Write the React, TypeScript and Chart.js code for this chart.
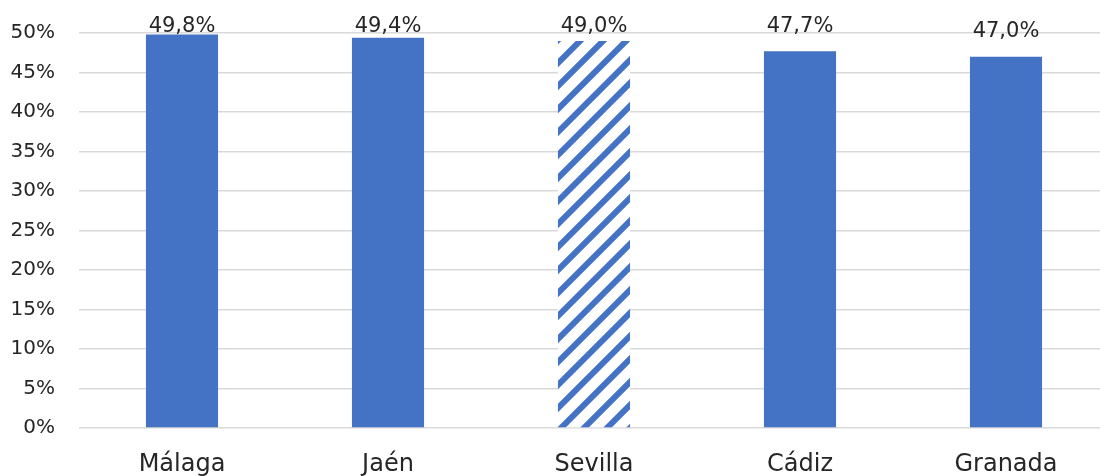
import React, { useEffect, useRef } from "react";
import { Chart, registerables } from "chart.js";

Chart.register(...registerables);

const categories = ["Málaga", "Jaén", "Sevilla", "Cádiz", "Granada"];
const values = [49.8, 49.4, 49.0, 47.7, 47.0];
const valueLabels = ["49,8%", "49,4%", "49,0%", "47,7%", "47,0%"];
const hatchedIndex = 2;
const yTicksMax = 50;
const yTickStep = 5;

const BLUE = "#4472C4";
const TEXT = "#262626";
const FONT = "'DejaVu Sans', sans-serif";

function makeHatch(): CanvasPattern | string {
  const P = 23;
  const c = document.createElement("canvas");
  c.width = P;
  c.height = P;
  const ctx = c.getContext("2d");
  if (!ctx) return BLUE;
  ctx.fillStyle = "#ffffff";
  ctx.fillRect(0, 0, P, P);
  ctx.strokeStyle = BLUE;
  ctx.lineWidth = 6;
  for (let k = -2; k <= 2; k++) {
    ctx.beginPath();
    ctx.moveTo(k * P - P, 2 * P);
    ctx.lineTo(k * P + 2 * P, -P);
    ctx.stroke();
  }
  const pat = ctx.createPattern(c, "repeat");
  return pat || BLUE;
}

const labelPlugin = {
  id: "valueLabels",
  afterDatasetsDraw(chart: any) {
    const ctx = chart.ctx;
    const meta = chart.getDatasetMeta(0);
    ctx.save();
    ctx.font = `21px ${FONT}`;
    ctx.fillStyle = TEXT;
    ctx.textAlign = "center";
    ctx.textBaseline = "alphabetic";
    meta.data.forEach((bar: any, i: number) => {
      const y = Math.max(bar.y - 19.5, chart.chartArea.top - 1.5);
      ctx.fillText(valueLabels[i], bar.x, y);
    });
    ctx.restore();
  },
};

export default function App() {
  const ref = useRef<HTMLCanvasElement | null>(null);
  useEffect(() => {
    if (!ref.current) return;
    const hatch = makeHatch();
    const colors = values.map((_, i) => (i === hatchedIndex ? hatch : BLUE));
    const chart = new Chart(ref.current, {
      type: "bar",
      data: {
        labels: categories,
        datasets: [
          {
            data: values,
            backgroundColor: colors as any,
            borderWidth: 0,
            categoryPercentage: 1,
            barPercentage: 0.35,
          },
        ],
      },
      options: {
        animation: false,
        responsive: false,
        devicePixelRatio: 1,
        layout: { padding: { top: 33, left: 0, right: 0, bottom: 0 } },
        plugins: {
          legend: { display: false },
          tooltip: { enabled: false },
        },
        scales: {
          x: {
            grid: { display: false },
            border: { display: false },
            ticks: {
              color: TEXT,
              font: { family: FONT, size: 24 },
              padding: 14,
              maxRotation: 0,
            },
            afterFit(scale: any) {
              scale.height = 48;
            },
          },
          y: {
            min: 0,
            max: yTicksMax,
            border: { display: false },
            grid: { color: "#d9d9d9", lineWidth: 1.5, drawTicks: false },
            ticks: {
              stepSize: yTickStep,
              color: TEXT,
              font: { family: FONT, size: 20 },
              padding: 24,
              callback: (v: any) => `${v}%`,
            },
            afterFit(scale: any) {
              scale.width = 79;
              scale.paddingTop = 0;
              scale.paddingBottom = 0;
            },
          },
        },
      },
      plugins: [labelPlugin],
    });
    return () => chart.destroy();
  }, []);

  return (
    <div
      style={{
        position: "fixed",
        left: 0,
        top: 0,
        width: 1100,
        height: 476,
        overflow: "hidden",
        background: "#ffffff",
      }}
    >
      <canvas ref={ref} width={1109} height={476} style={{ display: "block" }} />
    </div>
  );
}
